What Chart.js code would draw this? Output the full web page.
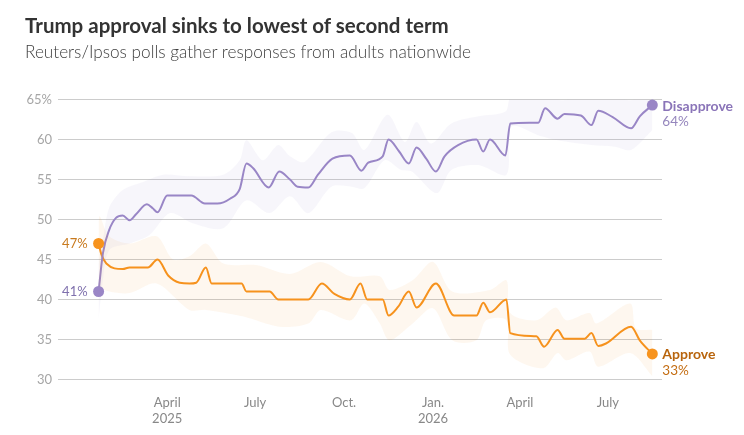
<!DOCTYPE html>
<html>
<head>
<meta charset="utf-8">
<script src="https://cdn.jsdelivr.net/npm/chart.js@4.4.1/dist/chart.umd.min.js"></script>
<style>
    body { margin: 0; background: #fff; font-family: Lato, sans-serif; }
    #wrap { position: relative; width: 744px; height: 435px; overflow: hidden; }
    h1 { position: absolute; left: 25px; top: 13px; margin: 0; font-size: 20.5px; font-weight: 700; color: #333; white-space: nowrap; }
    p.sub { position: absolute; left: 25px; top: 41px; margin: 0; font-size: 17.2px; font-weight: 300; color: #404040; white-space: nowrap; }
    canvas { position: absolute; left: 0; top: 0; }
</style>
</head>
<body>
<div id="wrap">
    <canvas id="chart" width="744" height="435"></canvas>
    <h1>Trump approval sinks to lowest of second term</h1>
    <p class="sub">Reuters/Ipsos polls gather responses from adults nationwide</p>
</div>
<script>
// days counted from Jan 1, 2025
const disapproveDays = [19, 23.5, 30, 37, 44, 51, 58, 69, 75, 80, 90, 115, 129, 142, 155, 165, 172, 179, 195, 206, 217, 225, 236, 246, 261, 279, 291, 298, 313, 319, 330, 340, 348, 358, 368, 377, 391, 410, 417, 424, 440, 445, 474, 481, 494, 501, 518, 529, 536, 551, 570, 579, 592];
const disapproveVals = [41, 45.8, 48.7, 50.2, 50.5, 49.9, 50.7, 51.9, 51.4, 50.9, 53, 53, 52, 52, 52.6, 53.8, 57, 56.4, 54, 56, 55, 54.1, 54, 55.6, 57.6, 58, 56.1, 57.1, 57.9, 60, 58.5, 57, 59, 57.6, 56, 57.9, 59.3, 60, 58.5, 60, 58, 62, 62.1, 63.9, 62.6, 63.2, 63, 61.8, 63.6, 62.8, 61.4, 62.9, 64.3];

const approveDays = [19, 22, 27, 44, 51, 70, 80, 91, 103, 113, 120, 130, 136, 167, 172, 196, 205, 236, 250, 263, 279, 290, 297, 313, 319, 329, 340, 348, 368, 387, 410, 417, 424, 441, 445, 472, 480, 494, 501, 522, 529, 536, 544, 570, 579, 592];
const approveVals = [47, 45.6, 44.5, 43.8, 44, 44, 45, 43, 42.1, 42, 42.1, 44, 42, 42, 41, 41, 40, 40, 42, 40.7, 40, 42, 40, 40, 38, 39.1, 41, 39, 42, 38, 38, 39.6, 38.4, 40, 35.8, 35.4, 34.1, 36.2, 35.1, 35.1, 35.8, 34.2, 34.5, 36.6, 34.9, 33.2];

// shaded ranges
const disUpDays = [19, 23, 30, 44, 65, 86, 113, 148, 165, 172, 189, 205, 217, 232, 260, 281, 294, 318, 336, 348, 363, 384, 412, 440, 446, 477, 498, 536, 570, 592];
const disUpVals = [44.5, 47, 51.5, 53.7, 54.7, 55.6, 55.4, 55.6, 57.4, 59.9, 57.4, 59.3, 57.9, 57.2, 60.9, 60.8, 58.7, 63.1, 59.7, 62.2, 59.5, 62, 62.9, 63.5, 65.5, 66.6, 64.9, 66.4, 64.9, 67];
const disLoDays = [19, 23, 30, 51, 72, 93, 117, 148, 172, 196, 217, 236, 260, 281, 294, 315, 332, 343, 369, 384, 412, 441, 446, 477, 494, 529, 553, 570, 592];
const disLoVals = [37.5, 42, 46.2, 47, 48.1, 50.8, 49.5, 48.9, 52.4, 50.8, 52.9, 50.8, 54.1, 54.1, 53.9, 57.4, 56.2, 56, 53.3, 56.2, 56.8, 55.6, 61.6, 60.4, 59.9, 59.3, 59.1, 58.7, 61.2];

const appUpDays = [19, 20, 30, 51, 79, 96, 113, 130, 148, 182, 217, 249, 280, 310, 320, 344, 365, 385, 424, 441, 445, 472, 492, 503, 527, 534, 569, 575, 592];
const appUpVals = [48, 50.4, 47.9, 47, 47.9, 45, 45.4, 47, 44.5, 44.3, 43.2, 44.7, 42.9, 42.9, 41.2, 42.4, 44.7, 41, 41.2, 42.4, 38.3, 37.4, 39, 37.4, 38.3, 37, 39.5, 36.4, 36.2];
const appLoDays = [19, 30, 51, 79, 113, 130, 168, 206, 236, 249, 280, 294, 310, 320, 344, 365, 385, 410, 420, 441, 445, 479, 494, 503, 527, 536, 569, 592];
const appLoVals = [41.5, 41, 40.8, 42, 38.7, 38.7, 37.9, 36.6, 37, 38.7, 37.4, 39.5, 37, 34.9, 37, 38.9, 34.9, 34.9, 37.4, 37.4, 33.1, 31.4, 33.3, 32.4, 33.5, 31.6, 33.3, 30.4];

const tickDays = [90, 181, 273, 365, 455, 546];
const tickLabels = [['April', '2025'], ['July'], ['Oct.'], ['Jan.', '2026'], ['April'], ['July']];

const PURPLE = '#9a86c6';
const ORANGE = '#f7931e';

function pts(days, vals) {
    return days.map((d, i) => ({ x: d, y: vals[i] }));
}

// dots and labels at both ends of the lines
const endLabels = {
    id: 'endLabels',
    afterDatasetsDraw(chart) {
        const ctx = chart.ctx;
        const dis = chart.getDatasetMeta(4).data;
        const app = chart.getDatasetMeta(5).data;
        const dFirst = dis[0], dLast = dis[dis.length - 1];
        const aFirst = app[0], aLast = app[app.length - 1];

        ctx.save();
        [[dFirst, PURPLE], [dLast, PURPLE], [aFirst, ORANGE], [aLast, ORANGE]].forEach(([p, c]) => {
            ctx.beginPath();
            ctx.arc(p.x, p.y, 5.5, 0, Math.PI * 2);
            ctx.fillStyle = c;
            ctx.fill();
        });

        ctx.textBaseline = 'middle';
        ctx.textAlign = 'right';
        ctx.font = '13px Lato';
        ctx.fillStyle = '#c87a1e';
        ctx.fillText(Math.round(approveVals[0]) + '%', aFirst.x - 11, aFirst.y);
        ctx.fillStyle = '#7f70ad';
        ctx.fillText(Math.round(disapproveVals[0]) + '%', dFirst.x - 11, dFirst.y);

        ctx.textAlign = 'left';
        const lx = dLast.x + 10;
        ctx.font = 'bold 14px Lato';
        ctx.fillStyle = '#8a74b8';
        ctx.fillText('Disapprove', lx, dLast.y + 1);
        ctx.font = '13.5px Lato';
        ctx.fillStyle = '#9586bd';
        ctx.fillText(Math.round(disapproveVals[disapproveVals.length - 1]) + '%', lx, dLast.y + 17);

        ctx.font = 'bold 14px Lato';
        ctx.fillStyle = '#b8640c';
        ctx.fillText('Approve', lx, aLast.y + 1);
        ctx.font = '13.5px Lato';
        ctx.fillStyle = '#c46e14';
        ctx.fillText(Math.round(approveVals[approveVals.length - 1]) + '%', lx, aLast.y + 17);
        ctx.restore();
    }
};

const bandStyle = { pointRadius: 0, borderWidth: 0, tension: 0.3, clip: false };

new Chart(document.getElementById('chart'), {
    type: 'line',
    data: {
        datasets: [
            { ...bandStyle, data: pts(disLoDays, disLoVals), fill: false },
            { ...bandStyle, data: pts(disUpDays, disUpVals), fill: '-1', backgroundColor: 'rgba(154,134,198,0.08)' },
            { ...bandStyle, data: pts(appLoDays, appLoVals), fill: false },
            { ...bandStyle, data: pts(appUpDays, appUpVals), fill: '-1', backgroundColor: 'rgba(247,147,30,0.07)' },
            {
                label: 'Disapprove',
                data: pts(disapproveDays, disapproveVals),
                borderColor: PURPLE,
                borderWidth: 2,
                pointRadius: 0,
                cubicInterpolationMode: 'monotone',
                fill: false,
                clip: false,
            },
            {
                label: 'Approve',
                data: pts(approveDays, approveVals),
                borderColor: ORANGE,
                borderWidth: 2,
                pointRadius: 0,
                cubicInterpolationMode: 'monotone',
                fill: false,
                clip: false,
            },
        ],
    },
    options: {
        responsive: false,
        animation: false,
        events: [],
        layout: { padding: { top: 99.5, right: 82, bottom: 5.5, left: 0 } },
        plugins: { legend: { display: false }, tooltip: { enabled: false } },
        scales: {
            x: {
                type: 'linear',
                min: -23,
                max: 602,
                afterFit: (axis) => { axis.height = 50; },
                afterBuildTicks: (axis) => { axis.ticks = tickDays.map((v) => ({ value: v })); },
                grid: { display: false },
                border: { display: false },
                ticks: {
                    padding: 8,
                    maxRotation: 0,
                    autoSkip: false,
                    color: '#888',
                    font: { family: 'Lato', size: 13 },
                    callback: (v) => tickLabels[tickDays.indexOf(v)],
                },
            },
            y: {
                min: 30,
                max: 65,
                afterFit: (axis) => { axis.width = 58; },
                grid: { color: '#cccccc', lineWidth: 1, drawTicks: false },
                border: { display: false },
                ticks: {
                    stepSize: 5,
                    padding: 6,
                    color: '#a6a6a6',
                    font: { family: 'Lato', size: 13 },
                    callback: (v) => (v === 65 ? v + '%' : v),
                },
            },
        },
    },
    plugins: [endLabels],
});
</script>
</body>
</html>
